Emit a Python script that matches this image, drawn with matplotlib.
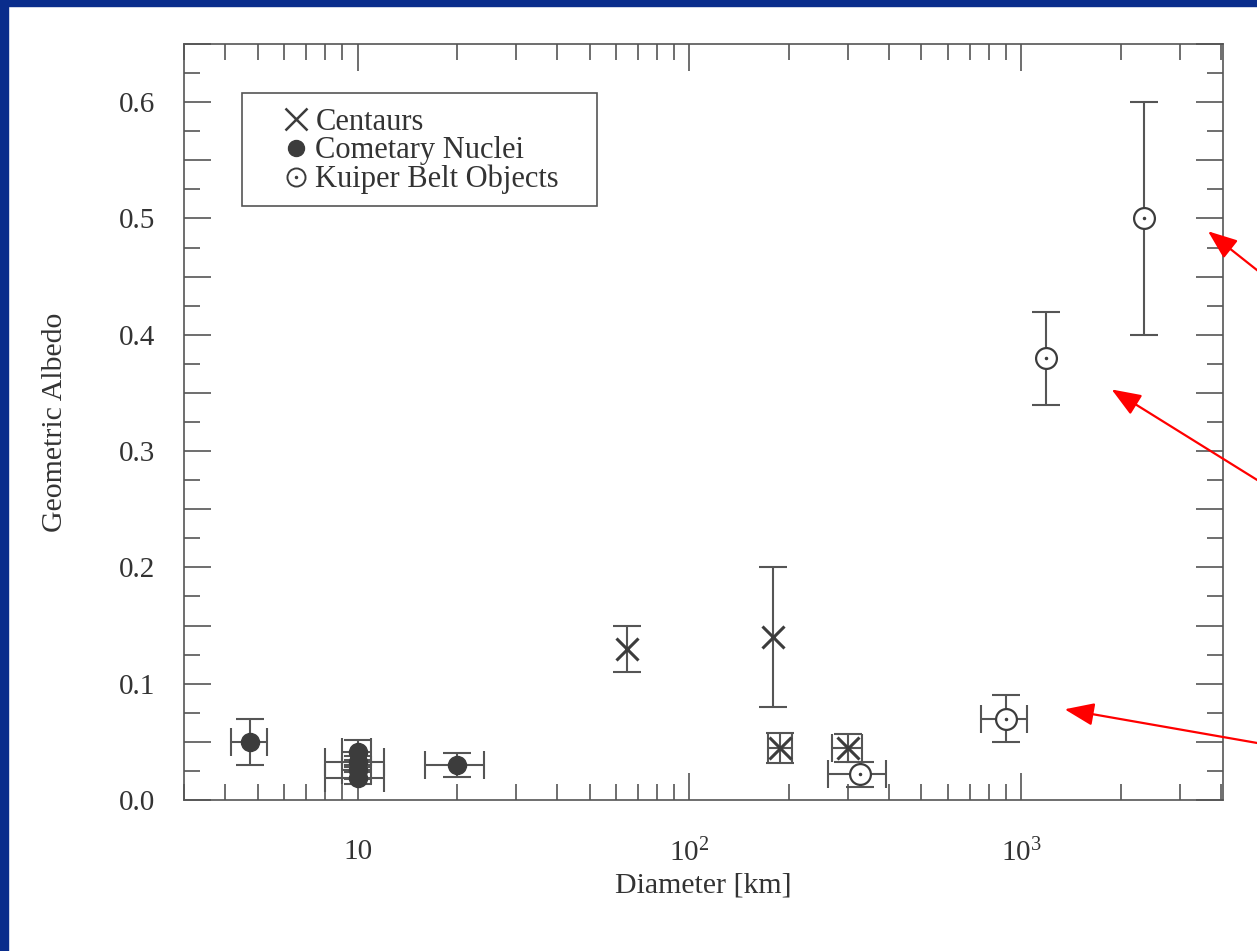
import matplotlib
matplotlib.use('Agg')
import matplotlib.pyplot as plt
from matplotlib.lines import Line2D
from matplotlib.patches import Rectangle
from matplotlib.ticker import FixedLocator, FixedFormatter, FuncFormatter, LogLocator, MultipleLocator, NullFormatter
from matplotlib.legend_handler import HandlerTuple

plt.rcParams['font.family'] = ['Liberation Serif', 'DejaVu Serif']
plt.rcParams['mathtext.fontset'] = 'custom'
plt.rcParams['mathtext.rm'] = 'Liberation Serif'
plt.rcParams['mathtext.it'] = 'Liberation Serif:italic'

# ---------------- data ----------------
cent_d = [65, 178, 188, 300]
cent_a = [0.13, 0.14, 0.045, 0.045]
cent_derr = [0, 0, 16, 32]
cent_aerr = [0.02, 0.06, 0.013, 0.012]

comet_d = [4.75, 10, 10, 10, 10, 20]
comet_a = [0.05, 0.041, 0.033, 0.026, 0.019, 0.03]
comet_derr = [0.6, 1.0, 2.0, 1.0, 2.0, 4.0]
comet_aerr = [0.02, 0.011, 0.005, 0.008, 0.005, 0.01]

kbo_d = [327, 900, 1190, 2340]
kbo_a = [0.022, 0.07, 0.38, 0.50]
kbo_derr = [65, 143, 0, 0]
kbo_aerr = [0.011, 0.02, 0.04, 0.10]

legend_labels = ['Centaurs', 'Cometary Nuclei', 'Kuiper Belt Objects']
x_tick_vals = [10, 100, 1000]
x_tick_labels = ['10', '$10^2$', '$10^3$']
x_label = 'Diameter [km]'
y_label = 'Geometric Albedo'

# arrows: (tip_d, tip_a, tail_d, tail_a)
arrow_tip_d = [3650, 1870, 1350]
arrow_tip_a = [0.489, 0.353, 0.078]
arrow_tail_d = [6010, 6010, 6010]
arrow_tail_a = [0.44, 0.263, 0.0456]

# ---------------- style ----------------
INK = '#3c3c3c'
LINE = '#555555'
BLUE = '#0a2d8c'

fig = plt.figure(figsize=(12.57, 9.51), dpi=100, facecolor='white')
ax = fig.add_axes([184/1257, 1-800/951, (1223-184)/1257, (800-44)/951])

eb_kw = dict(fmt='none', ecolor=LINE, elinewidth=1.5, capsize=10, capthick=1.5, zorder=2)


def draw_errors(d, a, derr, aerr):
    ax.errorbar(d, a, yerr=aerr, **eb_kw)
    dx = [v for v, e in zip(d, derr) if e > 0]
    ay = [v for v, e in zip(a, derr) if e > 0]
    ex = [e for e in derr if e > 0]
    if dx:
        ax.errorbar(dx, ay, xerr=ex, **eb_kw)


draw_errors(comet_d, comet_a, comet_derr, comet_aerr)
draw_errors(cent_d, cent_a, cent_derr, cent_aerr)
draw_errors(kbo_d, kbo_a, kbo_derr, kbo_aerr)

ax.plot(comet_d, comet_a, ls='none', marker='o', ms=13, mfc=INK, mec=INK, zorder=3)
ax.plot(cent_d, cent_a, ls='none', marker='x', ms=16, mew=2.2, color=INK, zorder=3)
ax.plot(kbo_d, kbo_a, ls='none', marker='o', ms=15, mfc='white', mec=INK, mew=1.6, zorder=3)
ax.plot(kbo_d, kbo_a, ls='none', marker='o', ms=1.5, mfc=INK, mec=INK, zorder=4)

# axes
ax.set_xscale('log')
ax.set_xlim(3, 4050)
ax.set_ylim(0, 0.65)

ax.xaxis.set_major_locator(FixedLocator(x_tick_vals))
ax.xaxis.set_major_formatter(FixedFormatter(x_tick_labels))
ax.xaxis.set_minor_locator(LogLocator(base=10, subs=range(2, 10), numticks=20))
ax.xaxis.set_minor_formatter(NullFormatter())

ax.yaxis.set_major_locator(MultipleLocator(0.05))
ax.yaxis.set_minor_locator(MultipleLocator(0.025))


def yfmt(v, pos):
    if abs(round(v * 10) - v * 10) < 1e-6:
        return f'{v:.1f}'
    return ''


ax.yaxis.set_major_formatter(FuncFormatter(yfmt))

ax.tick_params(which='both', direction='in', top=True, right=True, color=LINE,
               width=1.2, labelcolor='#333333', labelsize=21)
ax.tick_params(which='major', length=19.5)
ax.tick_params(which='minor', length=11.5)
ax.tick_params(axis='x', which='major', pad=28)
ax.tick_params(axis='y', which='major', pad=21)

for s in ax.spines.values():
    s.set_color(LINE)
    s.set_linewidth(1.2)

ax.set_xlabel(x_label, fontsize=21.5, color='#333333', labelpad=4)
ax.set_ylabel(y_label, fontsize=21.5, color='#333333', labelpad=36)

# legend
h_cent = Line2D([], [], ls='none', marker='x', ms=16, mew=1.8, color=INK)
h_com = Line2D([], [], ls='none', marker='o', ms=11.5, mfc=INK, mec=INK)
h_kbo_c = Line2D([], [], ls='none', marker='o', ms=13, mfc='white', mec=INK, mew=1.4)
h_kbo_d = Line2D([], [], ls='none', marker='o', ms=1.5, mfc=INK, mec=INK)
leg = ax.legend([h_cent, h_com, (h_kbo_c, h_kbo_d)], legend_labels,
                handler_map={tuple: HandlerTuple(ndivide=1)},
                loc='upper left', bbox_to_anchor=(0.0927, 0.9154), borderaxespad=0,
                borderpad=0, frameon=False, fontsize=22, handlelength=1.0,
                handletextpad=0.15, labelspacing=-0.02, labelcolor='#333333')
ax.add_patch(Rectangle((0.0558, 0.7857), 0.3417, 0.1495, transform=ax.transAxes,
                       fill=False, ec=LINE, lw=1.2, zorder=5))

# red arrows
for td, ta, sd, sa in zip(arrow_tip_d, arrow_tip_a, arrow_tail_d, arrow_tail_a):
    ax.annotate('', xy=(td, ta), xytext=(sd, sa), xycoords='data', textcoords='data',
                annotation_clip=False,
                arrowprops=dict(arrowstyle='-|>,head_length=0.9,head_width=0.35',
                                mutation_scale=20, color='#ff0000', lw=1.6,
                                shrinkA=0, shrinkB=0))

# blue frame (top and left edges)
fig.patches.append(Rectangle((0, 1 - 6/951), 1, 6/951, transform=fig.transFigure,
                             color=BLUE, zorder=10))
fig.patches.append(Rectangle((0, 0), 8/1257, 1, transform=fig.transFigure,
                             color=BLUE, zorder=10))

fig.savefig('out.png', dpi=100, facecolor='white')
